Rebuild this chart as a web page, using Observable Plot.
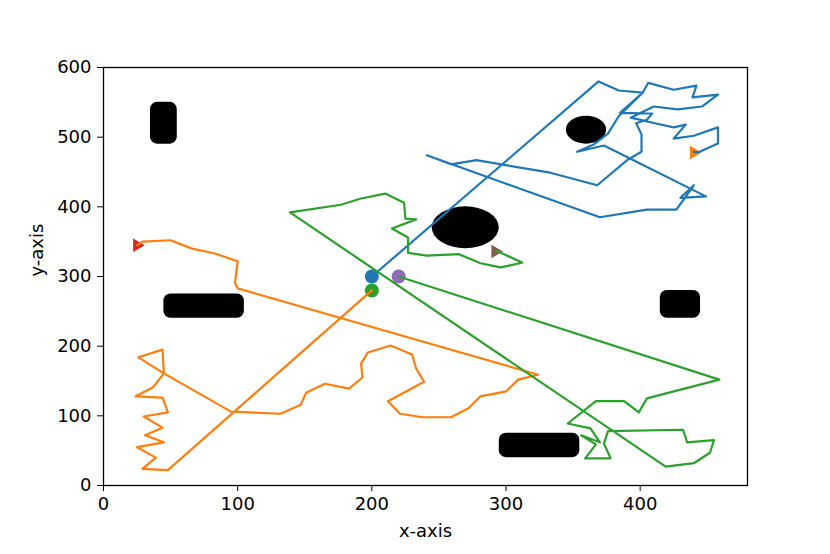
<!DOCTYPE html>
<html><head><meta charset="utf-8">
<script src="https://cdn.jsdelivr.net/npm/d3@7"></script>
<script src="https://cdn.jsdelivr.net/npm/@observablehq/plot@0.6"></script>
<style>body{margin:0;background:#fff;}</style>
</head><body><div id="chart"></div>
<script>
const xTicks = [0, 100, 200, 300, 400];
const yTicks = [0, 100, 200, 300, 400, 500, 600];

// robot paths
const blueX = [200,369,384,402,385,409,405,397,401,401,391,368,333,278,259,241,370,405,427,440,430,449,373,353,365,376,384,402,406,425,442,439,458,446,428,410,393,411,425,434,425,440,458,458,443,440];
const blueY = [300,580,567,564,535,534,525,520,504,479,468,431,449,467,461,474,385,396,396,431,413,415,488,479,489,505,530,564,578,568,574,557,561,544,540,544,528,520,514,518,498,502,514,491,478,479];
const orangeX = [200,48,29,39,25,45,31,44,30,48,44,24,37,45,44,26,45,95,132,147,151,165,183,193,192,197,214,230,233,239,212,221,238,259,272,281,300,309,324,100,98,100,83,66,50,29,26,25];
const orangeY = [280,22,24,40,55,62,72,83,99,105,126,128,141,161,195,184,161,106,103,116,133,146,139,155,175,191,201,188,168,149,121,103,98,98,111,128,135,152,159,283,291,322,333,340,352,350,346,345];
const greenX = [220,459,405,399,388,367,346,363,370,356,367,359,378,373,376,432,435,455,452,440,419,139,177,192,210,224,225,233,215,227,227,241,265,281,296,312,294,292];
const greenY = [300,152,125,105,121,121,89,82,62,72,59,39,39,60,78,80,62,65,47,32,27,392,403,412,419,406,383,382,369,356,334,330,332,319,313,320,336,336];

// start (circles) and goal (triangles)
const startX = [200, 200, 220];
const startY = [300, 280, 300];
const startColors = ["#1f77b4", "#2ca02c", "#9467bd"];
const goalX = [440, 25, 292];
const goalY = [478, 345, 336];
const goalColors = ["#ff7f0e", "#d62728", "#8c564b"];

// obstacles
const rectX1 = [35, 45, 295, 415];
const rectX2 = [55, 105, 355, 445];
const rectY1 = [490, 240, 40, 240];
const rectY2 = [550, 275, 75, 280];
const ellX1 = [245, 345];
const ellX2 = [295, 375];
const ellY1 = [340, 490];
const ellY2 = [400, 530];

const toPts = (xs, ys) => xs.map((x, i) => ({x, y: ys[i]}));
const rects = rectX1.map((_, i) => ({x1: rectX1[i], x2: rectX2[i], y1: rectY1[i], y2: rectY2[i]}));
const ells = ellX1.map((_, i) => ({x1: ellX1[i], x2: ellX2[i], y1: ellY1[i], y2: ellY2[i]}));
const starts = startX.map((x, i) => ({x, y: startY[i], c: startColors[i]}));
const goals = goalX.map((x, i) => ({x, y: goalY[i], c: goalColors[i]}));

const triRight = {
  draw(ctx, size) {
    const s = Math.sqrt(size * 4 / Math.sqrt(3));
    const h = s * Math.sqrt(3) / 2;
    ctx.moveTo(2 * h / 3, 0);
    ctx.lineTo(-h / 3, s / 2);
    ctx.lineTo(-h / 3, -s / 2);
    ctx.closePath();
  }
};

const chart = Plot.plot({
  width: 830, height: 554,
  marginLeft: 103, marginRight: 83, marginTop: 67, marginBottom: 69,
  style: {fontFamily: "DejaVu Sans", fontSize: "18px", color: "black", background: "white"},
  x: {domain: [0, 480], ticks: xTicks, tickSize: 6, tickPadding: 6, label: null},
  y: {domain: [0, 600], ticks: yTicks, tickSize: 6, tickPadding: 6, label: null},
  marks: [
    Plot.rect(rects, {x1: "x1", x2: "x2", y1: "y1", y2: "y2", fill: "black", rx: 7, ry: 7}),
    Plot.rect(ells, {x1: "x1", x2: "x2", y1: "y1", y2: "y2", fill: "black", rx: 200, ry: 200}),
    Plot.dot(starts, {x: "x", y: "y", r: 7, fill: d => d.c, stroke: "none"}),
    Plot.dot(goals, {x: "x", y: "y", r: 5, symbol: triRight, fill: d => d.c, stroke: "none"}),
    Plot.line(toPts(blueX, blueY), {x: "x", y: "y", stroke: "#1f77b4", strokeWidth: 2.2}),
    Plot.line(toPts(orangeX, orangeY), {x: "x", y: "y", stroke: "#ff7f0e", strokeWidth: 2.2}),
    Plot.line(toPts(greenX, greenY), {x: "x", y: "y", stroke: "#2ca02c", strokeWidth: 2.2}),
    Plot.frame({stroke: "black", strokeWidth: 1.3}),
    Plot.text(["x-axis"], {frameAnchor: "bottom", dy: 51, text: d => d, fontSize: 18, fill: "black"}),
    Plot.text(["y-axis"], {frameAnchor: "left", dx: -66, rotate: -90, text: d => d, fontSize: 18, fill: "black"})
  ]
});
document.getElementById("chart").appendChild(chart);
</script>
</body></html>
